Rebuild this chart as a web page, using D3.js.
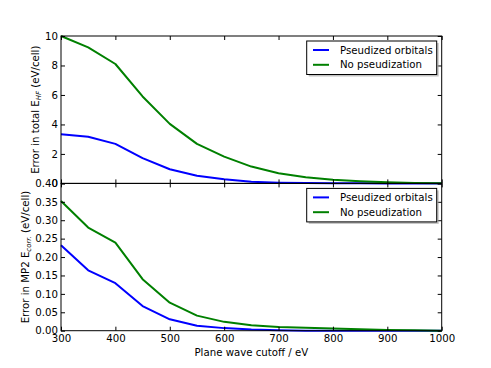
<!DOCTYPE html>
<html lang="en">
<head>
    <meta charset="UTF-8">
    <title>Plane wave cutoff convergence</title>
    <script src="https://d3js.org/d3.v7.min.js"></script>
    <style>
        body { margin: 0; background: white; }
        text { font-family: "DejaVu Sans", sans-serif; font-size: 10.2px; fill: black; }
    </style>
</head>
<body>
    <div id="chart"></div>

    <script>
        // values
        const cutoff = [300, 350, 400, 450, 500, 550, 600, 650, 700, 750, 800, 850, 900, 950, 1000];
        const hfPseudo = [3.34, 3.16, 2.68, 1.71, 0.96, 0.52, 0.28, 0.12, 0.05, 0.02, 0.01, 0.005, 0, 0, 0];
        const hfNoPseudo = [10.0, 9.23, 8.1, 5.9, 4.04, 2.68, 1.82, 1.14, 0.69, 0.41, 0.25, 0.14, 0.07, 0.03, 0.01];
        const mp2Pseudo = [0.232, 0.164, 0.129, 0.067, 0.031, 0.0136, 0.007, 0.003, 0.001, 0, 0, 0, 0, 0, 0];
        const mp2NoPseudo = [0.352, 0.28, 0.239, 0.14, 0.076, 0.041, 0.024, 0.0146, 0.010, 0.008, 0.006, 0.004, 0.002, 0.001, 0];

        const xTicks = [300, 400, 500, 600, 700, 800, 900, 1000];
        const hfTicks = [0, 2, 4, 6, 8, 10];
        const mp2Ticks = [0, 0.05, 0.10, 0.15, 0.20, 0.25, 0.30, 0.35, 0.40];
        const seriesNames = ["Pseudized orbitals", "No pseudization"];
        const colors = ["#0000ff", "#008000"];

        const width = 491;
        const height = 368;
        const left = 61, right = 441.7;

        const svg = d3.select("#chart")
            .append("svg")
            .attr("width", width)
            .attr("height", height);

        const x = d3.scaleLinear().domain([300, 1000]).range([left, right]);

        const panels = [
            {
                top: 36, bottom: 183.4, domain: [0, 10], ticks: hfTicks, fmt: d3.format("d"),
                series: [hfPseudo, hfNoPseudo], labelX: 35,
                label: ["Error in total E", "HF", " (eV/cell)"], showX: false
            },
            {
                top: 183.4, bottom: 330.7, domain: [0, 0.4], ticks: mp2Ticks, fmt: d3.format(".2f"),
                series: [mp2Pseudo, mp2NoPseudo], labelX: 25,
                label: ["Error in MP2 E", "corr.", " (eV/cell)"], showX: true
            }
        ];

        panels.forEach(p => {
            const y = d3.scaleLinear().domain(p.domain).range([p.bottom, p.top]);
            const g = svg.append("g");

            // lines
            const line = d3.line().x((d, i) => x(cutoff[i])).y(d => y(d));
            p.series.forEach((s, i) => {
                g.append("path")
                    .datum(s)
                    .attr("fill", "none")
                    .attr("stroke", colors[i])
                    .attr("stroke-width", 2)
                    .attr("stroke-linejoin", "round")
                    .attr("d", line);
            });

            // axes with inward ticks on all four sides
            const ax = (axis, tr) => {
                const a = g.append("g").attr("transform", tr).call(axis);
                a.select(".domain").remove();
                a.selectAll("text").style("font-family", "DejaVu Sans").style("font-size", "10.2px");
                return a;
            };
            ax(d3.axisLeft(y).tickValues(p.ticks).tickFormat(p.fmt).tickSize(-4).tickPadding(3),
                `translate(${left},0)`);
            ax(d3.axisRight(y).tickValues(p.ticks).tickFormat("").tickSize(-4),
                `translate(${right},0)`);
            ax(d3.axisTop(x).tickValues(xTicks).tickFormat("").tickSize(-4),
                `translate(0,${p.top})`);
            ax(d3.axisBottom(x).tickValues(xTicks).tickFormat(p.showX ? d3.format("d") : "")
                .tickSize(-4).tickPadding(4), `translate(0,${p.bottom})`);

            g.append("rect")
                .attr("x", left).attr("y", p.top)
                .attr("width", right - left).attr("height", p.bottom - p.top)
                .attr("fill", "none").attr("stroke", "black").attr("stroke-width", 1);

            // y label with subscript
            const t = g.append("text")
                .attr("transform", `translate(${p.labelX},${(p.top + p.bottom) / 2}) rotate(-90)`)
                .attr("text-anchor", "middle")
                .attr("dy", "0.35em");
            t.append("tspan").text(p.label[0]);
            t.append("tspan").attr("font-size", "7px").attr("font-style", "italic")
                .attr("dy", "2.5").text(p.label[1]);
            t.append("tspan").attr("dy", "-2.5").text(p.label[2]);

            // legend
            const lx = 306.7, ly = p.top + 5, lw = 130, lh = 33.5;
            g.append("rect")
                .attr("x", lx + 2).attr("y", ly + 2).attr("width", lw).attr("height", lh)
                .attr("fill", "#999").attr("opacity", 0.6);
            g.append("rect")
                .attr("x", lx).attr("y", ly).attr("width", lw).attr("height", lh)
                .attr("fill", "white").attr("stroke", "black").attr("stroke-width", 1);
            seriesNames.forEach((name, i) => {
                const ry = ly + 9 + i * 14.8;
                g.append("line")
                    .attr("x1", 313).attr("x2", 329).attr("y1", ry).attr("y2", ry)
                    .attr("stroke", colors[i]).attr("stroke-width", 2);
                g.append("text").attr("x", 340).attr("y", ry).attr("dy", "0.35em").text(name);
            });
        });

        svg.append("text")
            .attr("x", (left + right) / 2)
            .attr("y", 355.5)
            .attr("text-anchor", "middle")
            .text("Plane wave cutoff / eV");
    </script>
</body>
</html>
